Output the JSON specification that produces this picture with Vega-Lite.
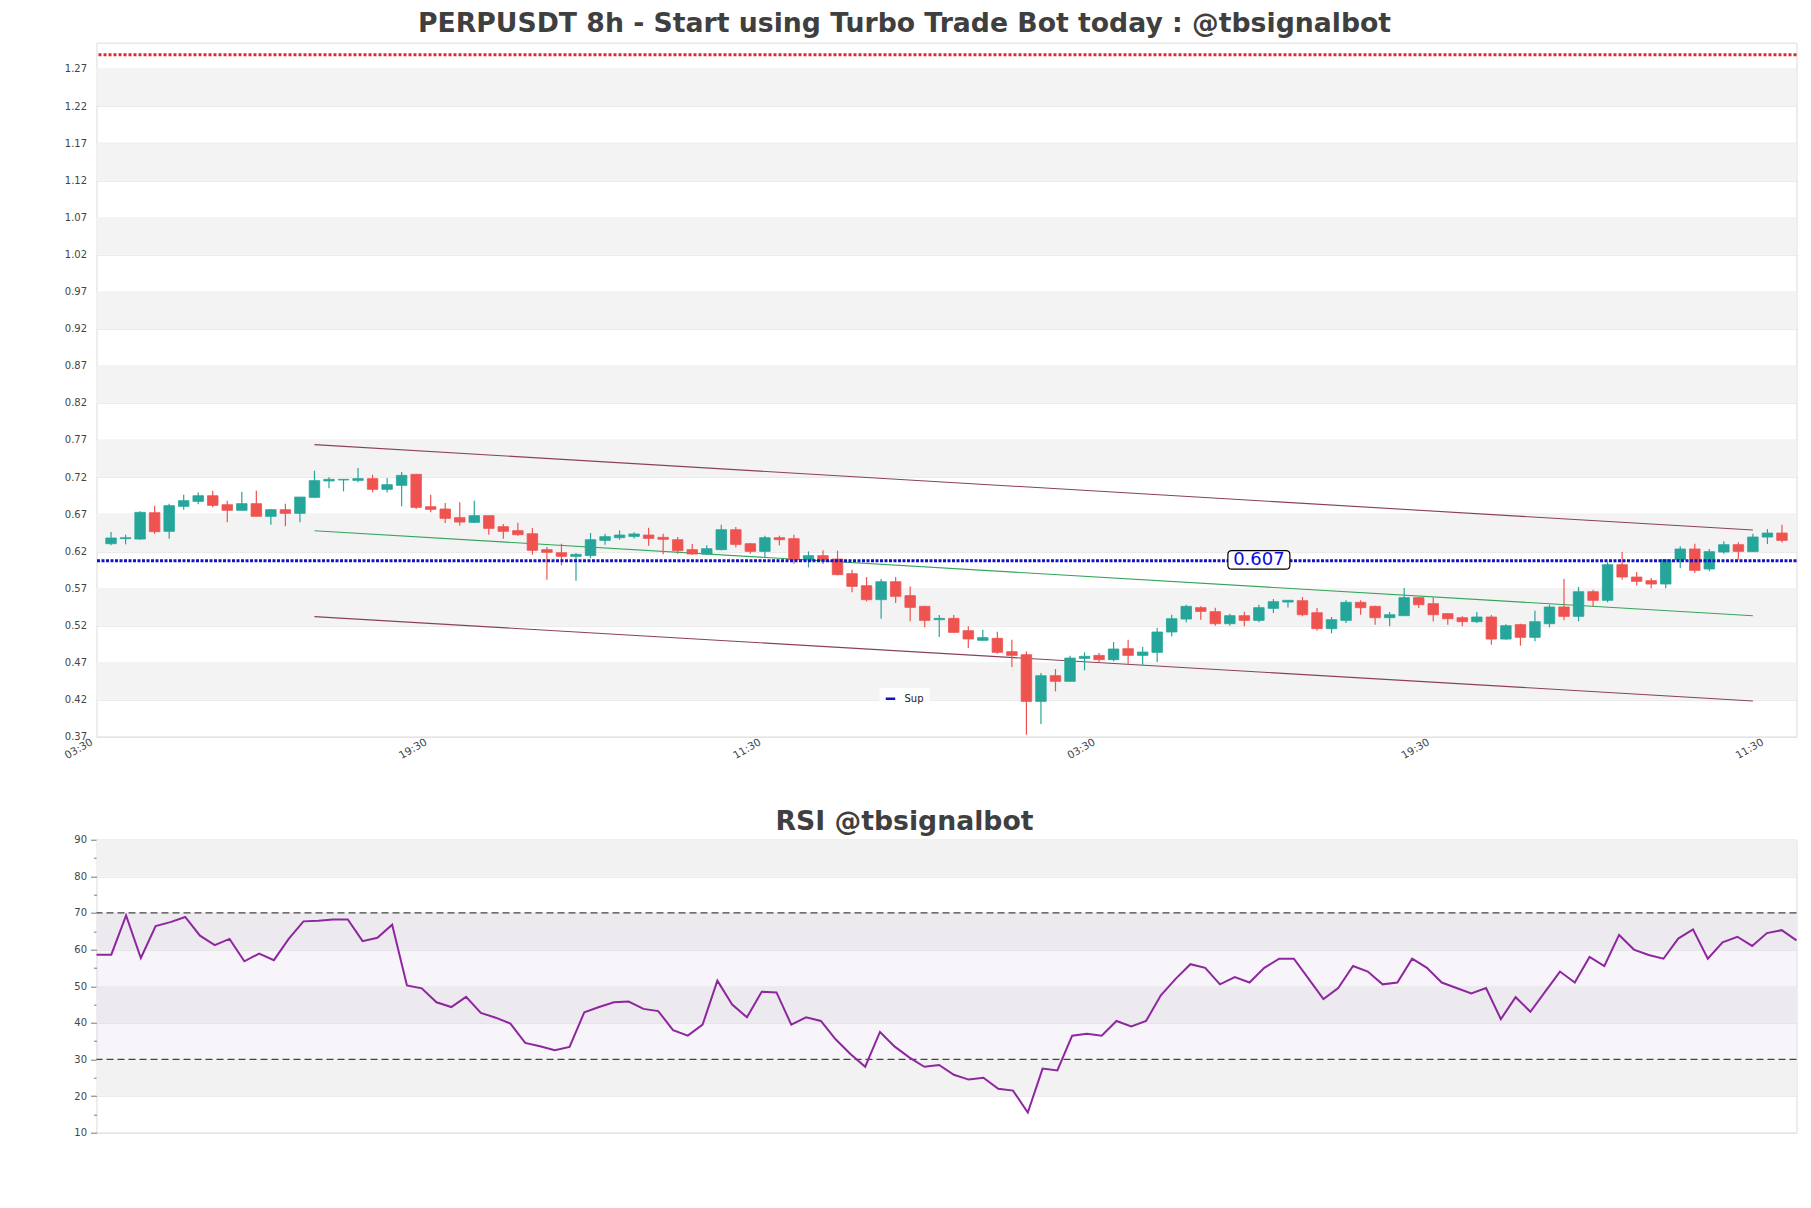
{
  "$schema": "https://vega.github.io/schema/vega-lite/v6.json",
  "background": "white",
  "padding": {"left": 60.5, "top": 10.7, "right": 10, "bottom": 0},
  "spacing": 42,
  "config": {
    "view": {"stroke": "#dcdcdc", "strokeWidth": 1},
    "axis": {"domain": false, "labelFont": "DejaVu Sans", "labelFontSize": 10, "labelColor": "#444444", "gridColor": "#e2e2e2", "tickColor": "#888888", "title": null},
    "title": {"font": "DejaVu Sans", "fontWeight": "bold", "color": "#3f3f3f", "anchor": "middle", "frame": "group"}
  },
  "datasets": {
    "candles": [
      {"i":0,"o":0.6301,"h":0.6459,"l":0.6279,"c":0.6378},
      {"i":1,"o":0.6369,"h":0.6423,"l":0.6292,"c":0.6382},
      {"i":2,"o":0.6364,"h":0.6737,"l":0.6355,"c":0.6724},
      {"i":3,"o":0.6719,"h":0.6814,"l":0.6436,"c":0.6463},
      {"i":4,"o":0.6468,"h":0.6841,"l":0.6369,"c":0.6814},
      {"i":5,"o":0.6805,"h":0.6962,"l":0.6760,"c":0.6881},
      {"i":6,"o":0.6872,"h":0.6993,"l":0.6832,"c":0.6948},
      {"i":7,"o":0.6948,"h":0.7016,"l":0.6791,"c":0.6818},
      {"i":8,"o":0.6827,"h":0.6881,"l":0.6589,"c":0.6751},
      {"i":9,"o":0.6751,"h":0.7002,"l":0.6751,"c":0.6841},
      {"i":10,"o":0.6841,"h":0.7016,"l":0.6670,"c":0.6670},
      {"i":11,"o":0.6670,"h":0.6769,"l":0.6558,"c":0.6760},
      {"i":12,"o":0.6760,"h":0.6841,"l":0.6535,"c":0.6710},
      {"i":13,"o":0.6710,"h":0.6930,"l":0.6589,"c":0.6930},
      {"i":14,"o":0.6926,"h":0.7285,"l":0.6926,"c":0.7151},
      {"i":15,"o":0.7147,"h":0.7196,"l":0.7047,"c":0.7169},
      {"i":16,"o":0.7160,"h":0.7169,"l":0.7007,"c":0.7169},
      {"i":17,"o":0.7155,"h":0.7321,"l":0.7128,"c":0.7178},
      {"i":18,"o":0.7178,"h":0.7231,"l":0.6993,"c":0.7034},
      {"i":19,"o":0.7034,"h":0.7187,"l":0.6993,"c":0.7097},
      {"i":20,"o":0.7088,"h":0.7267,"l":0.6805,"c":0.7222},
      {"i":21,"o":0.7236,"h":0.7245,"l":0.6769,"c":0.6791},
      {"i":22,"o":0.6800,"h":0.6962,"l":0.6724,"c":0.6764},
      {"i":23,"o":0.6769,"h":0.6849,"l":0.6580,"c":0.6643},
      {"i":24,"o":0.6652,"h":0.6859,"l":0.6544,"c":0.6593},
      {"i":25,"o":0.6589,"h":0.6881,"l":0.6580,"c":0.6679},
      {"i":26,"o":0.6679,"h":0.6679,"l":0.6423,"c":0.6508},
      {"i":27,"o":0.6531,"h":0.6566,"l":0.6369,"c":0.6468},
      {"i":28,"o":0.6477,"h":0.6584,"l":0.6409,"c":0.6423},
      {"i":29,"o":0.6436,"h":0.6512,"l":0.6153,"c":0.6212},
      {"i":30,"o":0.6221,"h":0.6257,"l":0.5816,"c":0.6185},
      {"i":31,"o":0.6180,"h":0.6301,"l":0.6010,"c":0.6131},
      {"i":32,"o":0.6131,"h":0.6176,"l":0.5803,"c":0.6158},
      {"i":33,"o":0.6140,"h":0.6445,"l":0.6108,"c":0.6355},
      {"i":34,"o":0.6346,"h":0.6436,"l":0.6288,"c":0.6396},
      {"i":35,"o":0.6382,"h":0.6481,"l":0.6355,"c":0.6418},
      {"i":36,"o":0.6400,"h":0.6454,"l":0.6373,"c":0.6432},
      {"i":37,"o":0.6418,"h":0.6517,"l":0.6274,"c":0.6373},
      {"i":38,"o":0.6387,"h":0.6436,"l":0.6158,"c":0.6360},
      {"i":39,"o":0.6355,"h":0.6391,"l":0.6167,"c":0.6207},
      {"i":40,"o":0.6221,"h":0.6297,"l":0.6153,"c":0.6162},
      {"i":41,"o":0.6162,"h":0.6279,"l":0.6153,"c":0.6234},
      {"i":42,"o":0.6221,"h":0.6558,"l":0.6212,"c":0.6490},
      {"i":43,"o":0.6490,"h":0.6526,"l":0.6252,"c":0.6292},
      {"i":44,"o":0.6301,"h":0.6310,"l":0.6167,"c":0.6198},
      {"i":45,"o":0.6198,"h":0.6409,"l":0.6108,"c":0.6382},
      {"i":46,"o":0.6382,"h":0.6409,"l":0.6279,"c":0.6355},
      {"i":47,"o":0.6369,"h":0.6423,"l":0.6032,"c":0.6086},
      {"i":48,"o":0.6086,"h":0.6198,"l":0.5982,"c":0.6140},
      {"i":49,"o":0.6140,"h":0.6212,"l":0.6027,"c":0.6086},
      {"i":50,"o":0.6095,"h":0.6207,"l":0.5875,"c":0.5884},
      {"i":51,"o":0.5897,"h":0.5951,"l":0.5646,"c":0.5726},
      {"i":52,"o":0.5735,"h":0.5852,"l":0.5524,"c":0.5547},
      {"i":53,"o":0.5547,"h":0.5825,"l":0.5291,"c":0.5789},
      {"i":54,"o":0.5789,"h":0.5852,"l":0.5502,"c":0.5592},
      {"i":55,"o":0.5601,"h":0.5726,"l":0.5255,"c":0.5443},
      {"i":56,"o":0.5457,"h":0.5466,"l":0.5174,"c":0.5268},
      {"i":57,"o":0.5277,"h":0.5340,"l":0.5044,"c":0.5295},
      {"i":58,"o":0.5295,"h":0.5340,"l":0.5106,"c":0.5106},
      {"i":59,"o":0.5129,"h":0.5187,"l":0.4895,"c":0.5017},
      {"i":60,"o":0.4999,"h":0.5142,"l":0.4999,"c":0.5035},
      {"i":61,"o":0.5026,"h":0.5115,"l":0.4819,"c":0.4837},
      {"i":62,"o":0.4846,"h":0.5007,"l":0.4639,"c":0.4796},
      {"i":63,"o":0.4805,"h":0.4850,"l":0.3727,"c":0.4176},
      {"i":64,"o":0.4176,"h":0.4558,"l":0.3871,"c":0.4522},
      {"i":65,"o":0.4522,"h":0.4612,"l":0.4311,"c":0.4446},
      {"i":66,"o":0.4446,"h":0.4792,"l":0.4446,"c":0.4760},
      {"i":67,"o":0.4756,"h":0.4837,"l":0.4594,"c":0.4783},
      {"i":68,"o":0.4796,"h":0.4828,"l":0.4702,"c":0.4738},
      {"i":69,"o":0.4738,"h":0.4976,"l":0.4715,"c":0.4882},
      {"i":70,"o":0.4886,"h":0.5007,"l":0.4684,"c":0.4796},
      {"i":71,"o":0.4796,"h":0.4908,"l":0.4670,"c":0.4841},
      {"i":72,"o":0.4837,"h":0.5165,"l":0.4706,"c":0.5111},
      {"i":73,"o":0.5111,"h":0.5344,"l":0.5052,"c":0.5290},
      {"i":74,"o":0.5286,"h":0.5479,"l":0.5241,"c":0.5457},
      {"i":75,"o":0.5439,"h":0.5457,"l":0.5277,"c":0.5389},
      {"i":76,"o":0.5385,"h":0.5439,"l":0.5196,"c":0.5223},
      {"i":77,"o":0.5223,"h":0.5358,"l":0.5196,"c":0.5331},
      {"i":78,"o":0.5331,"h":0.5385,"l":0.5187,"c":0.5268},
      {"i":79,"o":0.5268,"h":0.5479,"l":0.5241,"c":0.5439},
      {"i":80,"o":0.5430,"h":0.5556,"l":0.5367,"c":0.5520},
      {"i":81,"o":0.5515,"h":0.5538,"l":0.5443,"c":0.5538},
      {"i":82,"o":0.5533,"h":0.5583,"l":0.5322,"c":0.5344},
      {"i":83,"o":0.5371,"h":0.5434,"l":0.5129,"c":0.5156},
      {"i":84,"o":0.5156,"h":0.5313,"l":0.5093,"c":0.5277},
      {"i":85,"o":0.5268,"h":0.5538,"l":0.5232,"c":0.5511},
      {"i":86,"o":0.5511,"h":0.5538,"l":0.5344,"c":0.5439},
      {"i":87,"o":0.5457,"h":0.5466,"l":0.5210,"c":0.5304},
      {"i":88,"o":0.5304,"h":0.5380,"l":0.5187,"c":0.5344},
      {"i":89,"o":0.5331,"h":0.5704,"l":0.5331,"c":0.5574},
      {"i":90,"o":0.5574,"h":0.5583,"l":0.5434,"c":0.5479},
      {"i":91,"o":0.5493,"h":0.5578,"l":0.5254,"c":0.5344},
      {"i":92,"o":0.5358,"h":0.5367,"l":0.5210,"c":0.5290},
      {"i":93,"o":0.5304,"h":0.5322,"l":0.5187,"c":0.5250},
      {"i":94,"o":0.5250,"h":0.5380,"l":0.5232,"c":0.5313},
      {"i":95,"o":0.5313,"h":0.5340,"l":0.4940,"c":0.5016},
      {"i":96,"o":0.5016,"h":0.5214,"l":0.5007,"c":0.5196},
      {"i":97,"o":0.5210,"h":0.5223,"l":0.4927,"c":0.5039},
      {"i":98,"o":0.5039,"h":0.5398,"l":0.4985,"c":0.5250},
      {"i":99,"o":0.5223,"h":0.5479,"l":0.5174,"c":0.5448},
      {"i":100,"o":0.5448,"h":0.5825,"l":0.5268,"c":0.5322},
      {"i":101,"o":0.5322,"h":0.5717,"l":0.5255,"c":0.5654},
      {"i":102,"o":0.5654,"h":0.5681,"l":0.5448,"c":0.5538},
      {"i":103,"o":0.5538,"h":0.6050,"l":0.5511,"c":0.6018},
      {"i":104,"o":0.6018,"h":0.6189,"l":0.5816,"c":0.5852},
      {"i":105,"o":0.5852,"h":0.5920,"l":0.5740,"c":0.5794},
      {"i":106,"o":0.5803,"h":0.5839,"l":0.5700,"c":0.5758},
      {"i":107,"o":0.5758,"h":0.6086,"l":0.5700,"c":0.6086},
      {"i":108,"o":0.6086,"h":0.6266,"l":0.5974,"c":0.6230},
      {"i":109,"o":0.6230,"h":0.6302,"l":0.5906,"c":0.5942},
      {"i":110,"o":0.5960,"h":0.6230,"l":0.5929,"c":0.6194},
      {"i":111,"o":0.6189,"h":0.6333,"l":0.6167,"c":0.6288},
      {"i":112,"o":0.6288,"h":0.6320,"l":0.6086,"c":0.6198},
      {"i":113,"o":0.6194,"h":0.6436,"l":0.6194,"c":0.6391},
      {"i":114,"o":0.6391,"h":0.6499,"l":0.6297,"c":0.6445},
      {"i":115,"o":0.6445,"h":0.6557,"l":0.6319,"c":0.6346}
    ],
    "rsi": [
      {"i":0,"v":58.6},{"i":1,"v":58.6},{"i":2,"v":69.3},{"i":3,"v":57.7},{"i":4,"v":66.4},
      {"i":5,"v":67.5},{"i":6,"v":68.9},{"i":7,"v":63.8},{"i":8,"v":61.2},{"i":9,"v":62.9},
      {"i":10,"v":56.8},{"i":11,"v":58.9},{"i":12,"v":57.1},{"i":13,"v":62.9},{"i":14,"v":67.7},
      {"i":15,"v":67.9},{"i":16,"v":68.2},{"i":17,"v":68.2},{"i":18,"v":62.3},{"i":19,"v":63.2},
      {"i":20,"v":66.8},{"i":21,"v":50.2},{"i":22,"v":49.4},{"i":23,"v":45.6},{"i":24,"v":44.3},
      {"i":25,"v":47.1},{"i":26,"v":42.7},{"i":27,"v":41.4},{"i":28,"v":39.8},{"i":29,"v":34.5},
      {"i":30,"v":33.6},{"i":31,"v":32.5},{"i":32,"v":33.4},{"i":33,"v":42.9},{"i":34,"v":44.3},
      {"i":35,"v":45.6},{"i":36,"v":45.8},{"i":37,"v":43.8},{"i":38,"v":43.2},{"i":39,"v":38.0},
      {"i":40,"v":36.5},{"i":41,"v":39.5},{"i":42,"v":51.5},{"i":43,"v":45.0},{"i":44,"v":41.5},
      {"i":45,"v":48.5},{"i":46,"v":48.3},{"i":47,"v":39.5},{"i":48,"v":41.5},{"i":49,"v":40.5},
      {"i":50,"v":35.5},{"i":51,"v":31.5},{"i":52,"v":28.0},{"i":53,"v":37.5},{"i":54,"v":33.5},
      {"i":55,"v":30.5},{"i":56,"v":28.0},{"i":57,"v":28.5},{"i":58,"v":25.8},{"i":59,"v":24.5},
      {"i":60,"v":25.0},{"i":61,"v":22.0},{"i":62,"v":21.5},{"i":63,"v":15.5},{"i":64,"v":27.5},
      {"i":65,"v":27.0},{"i":66,"v":36.5},{"i":67,"v":37.0},{"i":68,"v":36.5},{"i":69,"v":40.5},
      {"i":70,"v":39.0},{"i":71,"v":40.5},{"i":72,"v":47.5},{"i":73,"v":52.0},{"i":74,"v":56.0},
      {"i":75,"v":55.0},{"i":76,"v":50.5},{"i":77,"v":52.5},{"i":78,"v":51.0},{"i":79,"v":55.0},
      {"i":80,"v":57.5},{"i":81,"v":57.5},{"i":82,"v":52.0},{"i":83,"v":46.5},{"i":84,"v":49.5},
      {"i":85,"v":55.5},{"i":86,"v":54.0},{"i":87,"v":50.5},{"i":88,"v":51.0},{"i":89,"v":57.5},
      {"i":90,"v":55.0},{"i":91,"v":51.0},{"i":92,"v":49.5},{"i":93,"v":48.0},{"i":94,"v":49.5},
      {"i":95,"v":41.0},{"i":96,"v":47.0},{"i":97,"v":43.0},{"i":98,"v":48.5},{"i":99,"v":54.0},
      {"i":100,"v":51.0},{"i":101,"v":58.0},{"i":102,"v":55.5},{"i":103,"v":64.0},{"i":104,"v":60.0},
      {"i":105,"v":58.5},{"i":106,"v":57.5},{"i":107,"v":63.0},{"i":108,"v":65.5},{"i":109,"v":57.5},
      {"i":110,"v":62.0},{"i":111,"v":63.5},{"i":112,"v":61.0},{"i":113,"v":64.5},{"i":114,"v":65.3},
      {"i":115,"v":62.5}
    ],
    "bands": [
      {"lo":0.42,"hi":0.47},{"lo":0.52,"hi":0.57},{"lo":0.62,"hi":0.67},{"lo":0.72,"hi":0.77},
      {"lo":0.82,"hi":0.87},{"lo":0.92,"hi":0.97},{"lo":1.02,"hi":1.07},{"lo":1.12,"hi":1.17},
      {"lo":1.22,"hi":1.27}
    ],
    "rsibands": [
      {"lo":20,"hi":30},{"lo":40,"hi":50},{"lo":60,"hi":70},{"lo":80,"hi":90}
    ],
    "channel": [
      {"line":"upper","i":14,"v":0.7636},{"line":"upper","i":113,"v":0.6485},
      {"line":"lower","i":14,"v":0.5318},{"line":"lower","i":113,"v":0.4182},
      {"line":"mid","i":14,"v":0.6475},{"line":"mid","i":113,"v":0.5330}
    ],
    "res": [{"level":1.289}],
    "sup": [{"level":0.607,"name":"Sup"}],
    "note": [{"i":79,"level":0.607,"label":"0.607"}],
    "rsilevels": [{"level":30},{"level":70}],
    "zone": [{"lo":30,"hi":70}]
  },
  "vconcat": [
    {
      "width": 1700,
      "height": 694,
      "title": {"text": "PERPUSDT 8h - Start using Turbo Trade Bot today : @tbsignalbot", "fontSize": 26.7, "offset": 4.5, "dx": -42},
      "layer": [
        {
          "data": {"name": "bands"},
          "mark": {"type": "rect", "color": "#f3f3f3"},
          "encoding": {
            "x": {"datum": -1, "type": "quantitative", "scale": {"domain": [-1, 116], "nice": false, "zero": false, "padding": 0},
              "axis": {"values": [-1, 22, 45, 68, 91, 114], "tickCount": 100, "labelExpr": "datum.value == -1 ? '03:30' : datum.value == 22 ? '19:30' : datum.value == 45 ? '11:30' : datum.value == 68 ? '03:30' : datum.value == 91 ? '19:30' : '11:30'", "labelAngle": -30, "labelAlign": "right", "labelBaseline": "top", "labelFontSize": 10.5, "labelOffset": -7.5, "ticks": false, "grid": false, "labelPadding": 0, "labelFlush": false, "labelOverlap": false, "labelBound": false, "minExtent": 28, "maxExtent": 28, "title": null}},
            "x2": {"datum": 116},
            "y": {"field": "lo", "type": "quantitative", "scale": {"domain": [0.37, 1.3054], "nice": false, "zero": false},
              "axis": {"values": [0.37,0.42,0.47,0.52,0.57,0.62,0.67,0.72,0.77,0.82,0.87,0.92,0.97,1.02,1.07,1.12,1.17,1.22,1.27], "tickCount": 100, "format": ".2f", "grid": true, "ticks": false, "labelPadding": 10, "labelOverlap": false, "minExtent": 35, "maxExtent": 35, "title": null}},
            "y2": {"field": "hi"}
          }
        },
        {
          "data": {"name": "res"},
          "mark": {"type": "rule", "color": "#e02a2a", "strokeWidth": 3, "strokeDash": [3, 2]},
          "encoding": {"y": {"field": "level", "type": "quantitative", "title": null}}
        },
        {
          "data": {"name": "channel"},
          "transform": [{"filter": "datum.line != 'mid'"}],
          "mark": {"type": "line", "color": "#8a4158", "strokeWidth": 1.1},
          "encoding": {
            "x": {"field": "i", "type": "quantitative", "title": null},
            "y": {"field": "v", "type": "quantitative", "title": null},
            "detail": {"field": "line"}
          }
        },
        {
          "data": {"name": "channel"},
          "transform": [{"filter": "datum.line == 'mid'"}],
          "mark": {"type": "line", "color": "#35a55a", "strokeWidth": 1.1},
          "encoding": {
            "x": {"field": "i", "type": "quantitative", "title": null},
            "y": {"field": "v", "type": "quantitative", "title": null}
          }
        },
        {
          "data": {"name": "candles"},
          "mark": {"type": "rule", "strokeWidth": 1.2},
          "encoding": {
            "x": {"field": "i", "type": "quantitative", "title": null},
            "y": {"field": "l", "type": "quantitative", "title": null},
            "y2": {"field": "h"},
            "color": {"condition": {"test": "datum.c >= datum.o", "value": "#26a69a"}, "value": "#ef5350"}
          }
        },
        {
          "data": {"name": "candles"},
          "mark": {"type": "bar", "width": 10.5, "strokeWidth": 0.8},
          "encoding": {
            "x": {"field": "i", "type": "quantitative", "title": null},
            "y": {"field": "o", "type": "quantitative", "title": null},
            "y2": {"field": "c"},
            "color": {"condition": {"test": "datum.c >= datum.o", "value": "#26a69a"}, "value": "#ef5350"},
            "stroke": {"condition": {"test": "datum.c >= datum.o", "value": "#26a69a"}, "value": "#ef5350"}
          }
        },
        {
          "data": {"name": "sup"},
          "mark": {"type": "rule", "strokeWidth": 3, "strokeDash": [3, 1.5]},
          "encoding": {
            "y": {"field": "level", "type": "quantitative", "title": null},
            "color": {"field": "name", "type": "nominal", "scale": {"domain": ["Sup"], "range": ["#1212c8"]},
              "legend": {"orient": "none", "legendX": 783, "legendY": 645, "title": null, "symbolType": "stroke", "symbolStrokeWidth": 2.5, "symbolSize": 90, "symbolDash": [1, 0], "labelFont": "DejaVu Sans", "labelFontSize": 10, "labelColor": "#222", "fillColor": "rgba(255,255,255,0.85)", "padding": 5, "labelOffset": 8}}
          }
        },
        {
          "data": {"name": "note"},
          "mark": {"type": "point", "shape": "M -0.87 -0.3 L 0.87 -0.3 Q 1 -0.3 1 -0.17 L 1 0.17 Q 1 0.3 0.87 0.3 L -0.87 0.3 Q -1 0.3 -1 0.17 L -1 -0.17 Q -1 -0.3 -0.87 -0.3 Z", "size": 3844, "filled": true, "fill": "white", "fillOpacity": 1, "stroke": "black", "strokeWidth": 1.2, "strokeOpacity": 1, "opacity": 1, "yOffset": -1},
          "encoding": {
            "x": {"field": "i", "type": "quantitative", "title": null},
            "y": {"field": "level", "type": "quantitative", "title": null}
          }
        },
        {
          "data": {"name": "note"},
          "mark": {"type": "text", "font": "DejaVu Sans", "fontSize": 18, "color": "#0a0ae0", "align": "center", "baseline": "middle", "dy": -1},
          "encoding": {
            "x": {"field": "i", "type": "quantitative", "title": null},
            "y": {"field": "level", "type": "quantitative", "title": null},
            "text": {"field": "label"}
          }
        }
      ]
    },
    {
      "width": 1700,
      "height": 293,
      "title": {"text": "RSI @tbsignalbot", "fontSize": 26.7, "offset": -1, "dx": -42},
      "layer": [
        {
          "data": {"name": "rsibands"},
          "mark": {"type": "rect", "color": "#f2f2f2"},
          "encoding": {
            "x": {"datum": 0, "type": "quantitative", "scale": {"domain": [0, 115], "nice": false, "zero": false, "padding": 0}, "axis": null},
            "x2": {"datum": 115},
            "y": {"field": "lo", "type": "quantitative", "scale": {"domain": [10, 90], "nice": false, "zero": false},
              "axis": {"values": [10,15,20,25,30,35,40,45,50,55,60,65,70,75,80,85,90], "tickCount": 100, "labelExpr": "datum.value % 10 === 0 ? datum.label : ''", "grid": true, "gridOpacity": {"condition": {"test": "datum.value % 10 === 0", "value": 1}, "value": 0}, "ticks": true, "tickSize": {"condition": {"test": "datum.value % 10 === 0", "value": 6}, "value": 3}, "tickColor": "#777", "labelPadding": 4, "labelOverlap": false, "minExtent": 35, "maxExtent": 35, "title": null}},
            "y2": {"field": "hi"}
          }
        },
        {
          "data": {"name": "zone"},
          "mark": {"type": "rect", "color": "#d8c6e2", "opacity": 0.18},
          "encoding": {
            "x": {"datum": 0, "type": "quantitative"},
            "x2": {"datum": 115},
            "y": {"field": "lo", "type": "quantitative", "title": null},
            "y2": {"field": "hi"}
          }
        },
        {
          "data": {"name": "rsilevels"},
          "mark": {"type": "rule", "color": "#444444", "strokeWidth": 1.2, "strokeDash": [7, 4]},
          "encoding": {"y": {"field": "level", "type": "quantitative", "title": null}}
        },
        {
          "data": {"name": "rsi"},
          "mark": {"type": "line", "color": "#8e279f", "strokeWidth": 2},
          "encoding": {
            "x": {"field": "i", "type": "quantitative", "title": null},
            "y": {"field": "v", "type": "quantitative", "title": null}
          }
        }
      ]
    }
  ]
}
